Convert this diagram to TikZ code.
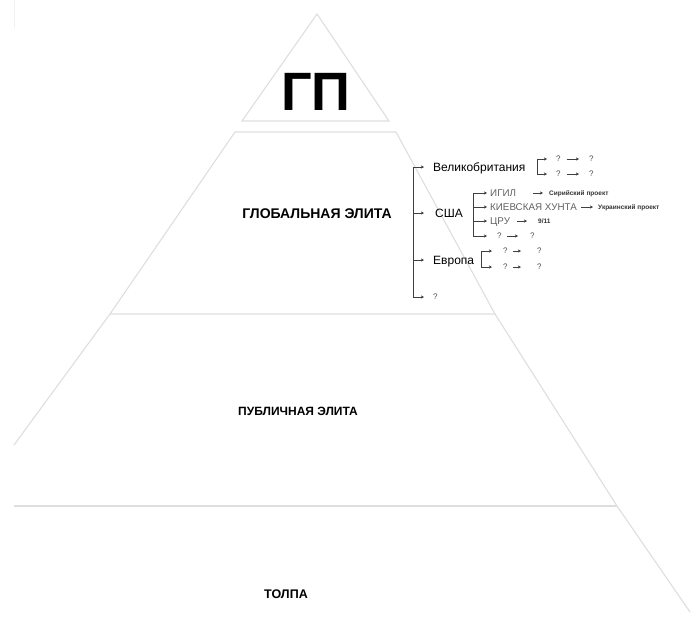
\documentclass[tikz,border=0pt]{standalone}
\usepackage{fontspec}
\setmainfont{Liberation Sans}
\usetikzlibrary{arrows.meta}
\begin{document}
\begin{tikzpicture}[x=1pt,y=-1pt,
  pyr/.style={draw=black!13, line width=1.1pt},
  arr/.style={draw=black!75, line width=0.6pt, -{Stealth[length=3.2pt,width=3.2pt]}},
  lbl/.style={inner sep=0pt, anchor=west},
  big/.style={lbl, font=\fontsize{12}{12}\selectfont, text=black, text height=8.6pt, text depth=0pt},
  mid/.style={lbl, font=\fontsize{9.8}{10}\selectfont, text=black!62, text height=7pt, text depth=0pt},
  tiny/.style={lbl, font=\fontsize{6.5}{7}\selectfont\bfseries, text=black!80, text height=4.7pt, text depth=0pt},
  q/.style={lbl, font=\fontsize{8}{8}\selectfont, text=black!70, text height=5.7pt, text depth=0pt},
  title/.style={inner sep=0pt, text=black}
]
\useasboundingbox (0,0) rectangle (691,619);
% faint mark top-left
\draw[draw=black!6, line width=1pt] (14,0) -- (14,28);

% pyramid
\coordinate (apex) at (317,14);
\coordinate (t1l) at (242,121);
\coordinate (t1r) at (389,121);
\draw[pyr] (apex) -- (t1r) -- (t1l) -- cycle;
\coordinate (b2tl) at (235,132);
\coordinate (b2tr) at (396,132);
\coordinate (b2bl) at (110,314);
\coordinate (b2br) at (495,314);
\draw[pyr] (b2bl) -- (b2tl) -- (b2tr) -- (b2br) -- cycle;
\coordinate (b3l) at (14,445);
\coordinate (b3bl) at (14,506);
\coordinate (b3br) at (617,506);
\coordinate (b4r) at (690,612);
\draw[pyr] (b2bl) -- (b3l);
\draw[pyr] (b2br) -- (b3br) -- (b4r);
\draw[pyr] (b3bl) -- (b3br);

% level titles
\node[title, font=\fontsize{54}{54}\selectfont\bfseries] (gp) at (316,92) {ГП};
\node[title, font=\fontsize{14}{14}\selectfont\bfseries] (ge) at (317,214) {ГЛОБАЛЬНАЯ ЭЛИТА};
\node[title, font=\fontsize{12}{12}\selectfont\bfseries] (pe) at (298,411) {ПУБЛИЧНАЯ ЭЛИТА};
\node[title, font=\fontsize{12.5}{12}\selectfont\bfseries] (tl) at (286,594) {ТОЛПА};

% main tree
\node[big] (vel) at (433,167) {Великобритания};
\node[big] (usa) at (435,213) {США};
\node[big] (eur) at (433,260) {Европа};
\node[q] (mq) at (433,297) {?};
\coordinate (m0) at (413,167);
\coordinate (mE) at (424,0);
\foreach \n in {vel,usa,eur,mq} \draw[arr] (m0) |- (\n.west -| mE);

% Великобритания
\coordinate (v0) at (537,159);
\coordinate (vE) at (547,0);
\node[q] (v1a) at (556,159) {?};
\node[q] (v1b) at (589,159) {?};
\node[q] (v2a) at (556,174) {?};
\node[q] (v2b) at (589,174) {?};
\draw[arr] (v0) |- (v1a.west -| vE);
\draw[arr] (v0) |- (v2a.west -| vE);
\draw[arr, shorten <=6pt, shorten >=10pt] (v1a.east) -- (v1b.west);
\draw[arr, shorten <=6pt, shorten >=10pt] (v2a.east) -- (v2b.west);

% США
\coordinate (u0) at (473,193);
\coordinate (uE) at (487,0);
\node[mid] (isis) at (490,193) {ИГИЛ};
\node[tiny] (syr) at (549,193) {Сирийский проект};
\node[mid] (kiev) at (490,207) {КИЕВСКАЯ ХУНТА};
\node[tiny] (ukr) at (598,207) {Украинский проект};
\node[mid] (cia) at (490,221) {ЦРУ};
\node[tiny] (nine) at (538,221) {9/11};
\node[q] (u4a) at (497,236) {?};
\node[q] (u4b) at (530,236) {?};
\foreach \n in {isis,kiev,cia,u4a} \draw[arr] (u0) |- (\n.west -| uE);
\draw[arr, shorten <=17pt, shorten >=6pt] (isis.east) -- (syr.west);
\draw[arr, shorten <=4pt, shorten >=5pt] (kiev.east) -- (ukr.west);
\draw[arr, shorten <=7pt, shorten >=11pt] (cia.east) -- (nine.west);
\draw[arr, shorten <=5pt, shorten >=12pt] (u4a.east) -- (u4b.west);

% Европа
\coordinate (e0) at (481,251);
\coordinate (eE) at (492,0);
\node[q] (e1a) at (503,251) {?};
\node[q] (e1b) at (537,251) {?};
\node[q] (e2a) at (503,267) {?};
\node[q] (e2b) at (537,267) {?};
\draw[arr] (e0) |- (e1a.west -| eE);
\draw[arr] (e0) |- (e2a.west -| eE);
\draw[arr, shorten <=5pt, shorten >=16pt] (e1a.east) -- (e1b.west);
\draw[arr, shorten <=5pt, shorten >=16pt] (e2a.east) -- (e2b.west);
\end{tikzpicture}
\end{document}
